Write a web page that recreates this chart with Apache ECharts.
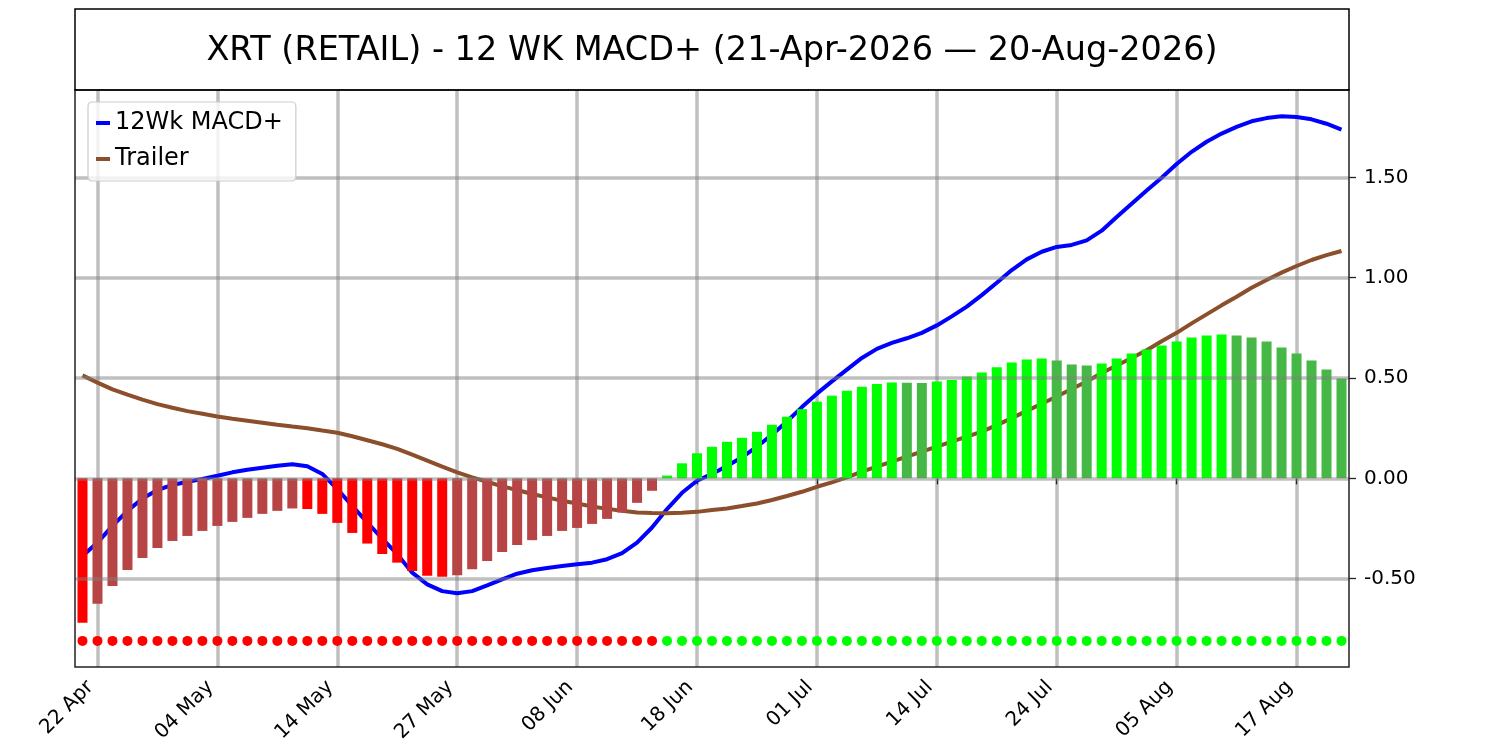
<!DOCTYPE html>
<html>
<head>
<meta charset="utf-8">
<script src="https://cdn.jsdelivr.net/npm/echarts@6/dist/echarts.min.js"></script>
<style>
  html, body { margin: 0; padding: 0; background: #fff; }
  #chart { width: 1500px; height: 750px; }
</style>
</head>
<body>
<div id="chart"></div>
<script>
// trading days 21-Apr-2026 .. 20-Aug-2026
const days = [
  '21 Apr','22 Apr','23 Apr','24 Apr','27 Apr','28 Apr','29 Apr','30 Apr','01 May','04 May',
  '05 May','06 May','07 May','08 May','11 May','12 May','13 May','14 May','15 May','18 May',
  '19 May','20 May','21 May','22 May','26 May','27 May','28 May','29 May','01 Jun','02 Jun',
  '03 Jun','04 Jun','05 Jun','08 Jun','09 Jun','10 Jun','11 Jun','12 Jun','15 Jun','16 Jun',
  '17 Jun','18 Jun','22 Jun','23 Jun','24 Jun','25 Jun','26 Jun','29 Jun','30 Jun','01 Jul',
  '02 Jul','06 Jul','07 Jul','08 Jul','09 Jul','10 Jul','13 Jul','14 Jul','15 Jul','16 Jul',
  '17 Jul','20 Jul','21 Jul','22 Jul','23 Jul','24 Jul','27 Jul','28 Jul','29 Jul','30 Jul',
  '31 Jul','03 Aug','04 Aug','05 Aug','06 Aug','07 Aug','10 Aug','11 Aug','12 Aug','13 Aug',
  '14 Aug','17 Aug','18 Aug','19 Aug','20 Aug'
];

const macd = [
  -0.387,-0.320,-0.237,-0.162,-0.100,-0.058,-0.033,-0.017,-0.003,0.013,
  0.030,0.043,0.053,0.063,0.070,0.060,0.022,-0.053,-0.137,-0.220,
  -0.300,-0.378,-0.470,-0.528,-0.562,-0.573,-0.562,-0.533,-0.503,-0.475,
  -0.458,-0.447,-0.437,-0.428,-0.420,-0.403,-0.373,-0.320,-0.245,-0.153,
  -0.072,-0.012,0.022,0.062,0.105,0.158,0.217,0.283,0.355,0.422,
  0.483,0.542,0.600,0.645,0.675,0.698,0.725,0.762,0.807,0.856,
  0.913,0.975,1.038,1.091,1.129,1.153,1.163,1.186,1.234,1.302,
  1.368,1.434,1.498,1.566,1.627,1.677,1.718,1.751,1.779,1.795,
  1.804,1.800,1.789,1.767,1.738
];

const trailer = [
  0.513,0.477,0.443,0.417,0.392,0.370,0.352,0.335,0.322,0.308,
  0.297,0.287,0.277,0.267,0.258,0.250,0.238,0.227,0.210,0.190,
  0.170,0.147,0.118,0.088,0.058,0.030,0.005,-0.017,-0.040,-0.058,
  -0.078,-0.095,-0.112,-0.125,-0.140,-0.152,-0.162,-0.170,-0.173,-0.174,
  -0.172,-0.167,-0.158,-0.150,-0.138,-0.125,-0.108,-0.088,-0.067,-0.042,
  -0.020,0.005,0.033,0.058,0.083,0.108,0.133,0.158,0.183,0.208,
  0.233,0.265,0.300,0.336,0.372,0.408,0.445,0.483,0.525,0.562,
  0.600,0.638,0.683,0.725,0.772,0.817,0.862,0.905,0.950,0.988,
  1.025,1.058,1.088,1.112,1.133
];

const hist = [
  -0.720,-0.625,-0.537,-0.457,-0.397,-0.347,-0.312,-0.287,-0.262,-0.237,
  -0.217,-0.197,-0.177,-0.162,-0.150,-0.153,-0.177,-0.222,-0.272,-0.325,
  -0.377,-0.420,-0.462,-0.485,-0.490,-0.483,-0.453,-0.412,-0.367,-0.332,
  -0.308,-0.287,-0.262,-0.247,-0.227,-0.202,-0.170,-0.122,-0.062,0.014,
  0.075,0.125,0.157,0.182,0.202,0.232,0.267,0.307,0.345,0.382,
  0.412,0.437,0.457,0.470,0.478,0.476,0.475,0.482,0.490,0.507,
  0.527,0.553,0.577,0.592,0.597,0.587,0.567,0.562,0.572,0.597,
  0.622,0.642,0.662,0.682,0.702,0.712,0.717,0.712,0.702,0.682,
  0.652,0.622,0.587,0.542,0.497
];

const signalLevel = -0.81;
const yTicks = [-0.5, 0, 0.5, 1.0, 1.5];

const FONT = 'DejaVu Sans';
const TITLE = 'XRT (RETAIL) - 12 WK MACD+ (21-Apr-2026 \u2014 20-Aug-2026)';

// bright colour when the histogram grows away from zero, muted when it shrinks
function barColor(v, i) {
  const prev = i > 0 ? hist[i - 1] : null;
  if (v < 0) return (prev === null || v < prev) ? '#ff0000' : '#b84545';
  return (prev === null || v > prev) ? '#00ff00' : '#45b845';
}

const isTick = (idx) => (idx - 1) % 8 === 0;

const chart = echarts.init(document.getElementById('chart'));
const option = {
  animation: false,
  backgroundColor: '#fff',
  textStyle: { fontFamily: FONT },
  graphic: [
    {
      type: 'rect',
      shape: { x: 75, y: 9, width: 1274, height: 81 },
      style: { fill: 'none', stroke: '#000', lineWidth: 1.5 },
      z: 10
    },
    {
      type: 'text',
      x: 712, y: 51,
      style: {
        text: TITLE, fontFamily: FONT, fontSize: 33.5, fill: '#000',
        align: 'center', verticalAlign: 'middle'
      },
      z: 10
    }
  ],
  legend: {
    left: 88, top: 102,
    orient: 'vertical',
    data: ['12Wk MACD+', 'Trailer'],
    icon: 'rect',
    itemWidth: 14, itemHeight: 4,
    itemGap: 8,
    padding: [7, 13, 8, 8],
    borderColor: '#cccccc', borderWidth: 1.2, borderRadius: 4,
    backgroundColor: 'rgba(255,255,255,0.8)',
    textStyle: { fontFamily: FONT, fontSize: 24, color: '#000', lineHeight: 28 }
  },
  grid: {
    left: 75, right: 151, top: 90, bottom: 83,
    show: true, borderColor: '#222', borderWidth: 1.5,
    backgroundColor: 'transparent', z: 5
  },
  xAxis: {
    type: 'category',
    data: days,
    boundaryGap: true,
    z: 0,
    axisLine: { show: false },
    axisTick: {
      show: true, alignWithLabel: true, interval: (idx) => isTick(idx), length: 6,
      lineStyle: { color: '#222', width: 1.3 }
    },
    axisLabel: {
      interval: (idx) => isTick(idx), rotate: 45, margin: 10,
      padding: [0, 10, 0, 0],
      fontFamily: FONT, fontSize: 20, color: '#000'
    },
    splitLine: {
      show: true, alignWithLabel: true, interval: (idx) => isTick(idx),
      lineStyle: { color: 'rgba(128,128,128,0.5)', width: 3.5 }
    }
  },
  yAxis: {
    type: 'value',
    position: 'right',
    min: -0.94, max: 1.935,
    z: 3,
    axisLine: { show: false },
    axisTick: {
      show: true, length: 7, customValues: yTicks,
      lineStyle: { color: '#222', width: 1.3 }
    },
    axisLabel: {
      customValues: yTicks, margin: 15,
      fontFamily: FONT, fontSize: 20, color: '#000',
      formatter: (v) => v.toFixed(2)
    },
    splitLine: {
      show: true,
      lineStyle: { color: 'rgba(128,128,128,0.5)', width: 3.5 }
    }
  },
  series: [
    {
      name: '12Wk MACD+',
      type: 'line',
      data: macd,
      z: 1,
      showSymbol: false,
      symbol: 'none',
      lineStyle: { color: '#0000ff', width: 4 },
      itemStyle: { color: '#0000ff' }
    },
    {
      name: 'Trailer',
      type: 'line',
      data: trailer,
      z: 1,
      showSymbol: false,
      symbol: 'none',
      lineStyle: { color: '#8c4f2b', width: 4 },
      itemStyle: { color: '#8c4f2b' }
    },
    {
      name: 'hist',
      type: 'bar',
      z: 2,
      barWidth: 10,
      data: hist.map((v, i) => ({ value: v, itemStyle: { color: barColor(v, i) } }))
    },
    {
      name: 'signal',
      type: 'scatter',
      z: 4,
      symbolSize: 10,
      data: hist.map((v) => ({
        value: signalLevel,
        itemStyle: { color: v < 0 ? '#ff0000' : '#00ff00', opacity: 1 }
      }))
    }
  ]
};
chart.setOption(option);
</script>
</body>
</html>
